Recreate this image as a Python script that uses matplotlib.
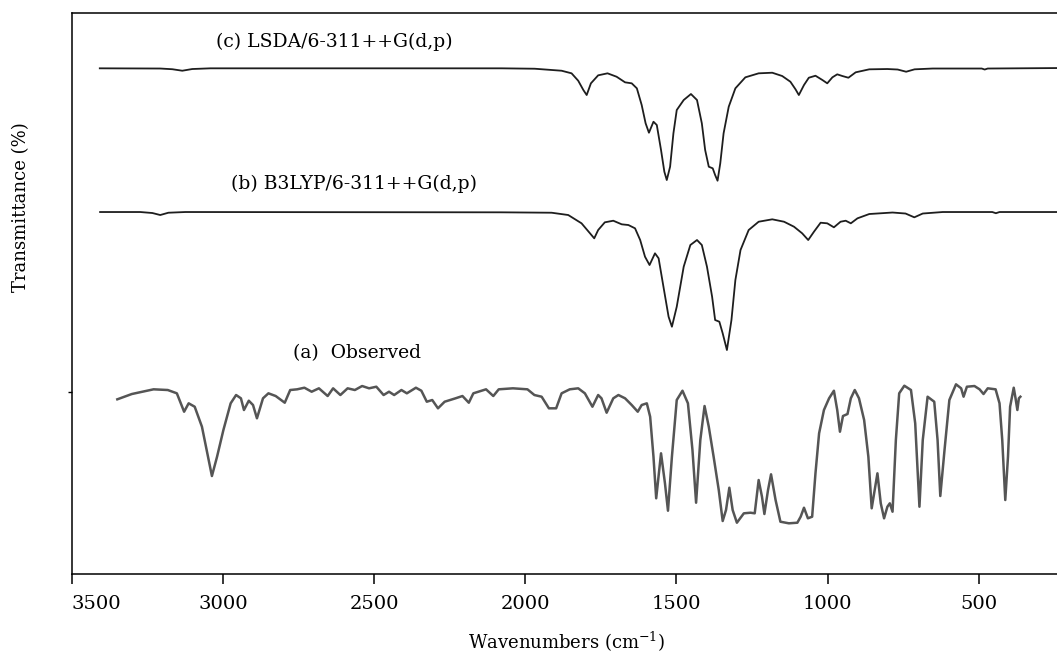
import matplotlib
matplotlib.use("Agg")
import matplotlib.pyplot as plt

plt.rcParams["font.family"] = ["DejaVu Serif"]
plt.rcParams["mathtext.fontset"] = "dejavuserif"

# ── Spectra: (wavenumber cm-1, transmittance, arbitrary offset units) ──
# (c) LSDA/6-311++G(d,p)
lsda = [
    (3408, 505.7), (3208, 505.5), (3168, 504.8), (3135, 503.3), (3102, 505.0), (3042, 505.7),
    (2079, 505.7), (1969, 505.3), (1880, 503.3), (1847, 500.7), (1825, 493.3), (1808, 484.0),
    (1797, 479.0), (1783, 490.7), (1759, 498.7), (1728, 500.7), (1698, 497.3), (1670, 491.7),
    (1648, 490.7), (1631, 485.7), (1615, 469.0), (1602, 450.7), (1591, 441.3), (1576, 452.3),
    (1565, 449.0), (1551, 424.0), (1540, 402.3), (1532, 394.0), (1521, 407.3), (1510, 440.7),
    (1499, 464.0), (1476, 474.0), (1452, 480.0), (1432, 474.0), (1416, 450.7), (1405, 424.0),
    (1393, 407.3), (1380, 405.7), (1372, 399.0), (1364, 393.3), (1355, 410.7), (1344, 440.7),
    (1327, 467.3), (1305, 485.7), (1272, 496.7), (1228, 500.7), (1183, 501.3), (1150, 498.0),
    (1123, 492.3), (1106, 484.7), (1095, 479.0), (1078, 489.0), (1062, 496.3), (1040, 498.3),
    (1017, 494.0), (1001, 490.7), (984, 496.7), (968, 499.7), (951, 498.0), (931, 496.3),
    (907, 501.7), (862, 504.7), (802, 505.0), (768, 504.5), (740, 502.3), (712, 504.7),
    (652, 505.5), (490, 505.5), (480, 504.5), (470, 505.5), (228, 506.0),
]

# (b) B3LYP/6-311++G(d,p)
b3lyp = [
    (3407, 362.0), (3274, 362.0), (3234, 361.0), (3208, 359.0), (3181, 361.3), (3125, 362.0),
    (2079, 361.7), (1913, 361.3), (1858, 359.0), (1814, 350.7), (1786, 340.7), (1772, 335.7),
    (1759, 344.0), (1737, 351.7), (1709, 353.3), (1681, 349.7), (1659, 349.0), (1637, 345.7),
    (1620, 334.0), (1604, 317.3), (1589, 309.0), (1571, 320.7), (1559, 315.7), (1543, 287.3),
    (1526, 257.3), (1515, 247.3), (1499, 267.3), (1476, 307.3), (1454, 329.0), (1432, 334.0),
    (1416, 329.0), (1399, 307.3), (1382, 277.3), (1372, 254.0), (1358, 252.3), (1347, 240.7),
    (1333, 224.0), (1318, 254.0), (1305, 294.0), (1288, 324.0), (1261, 344.0), (1228, 352.3),
    (1183, 354.7), (1144, 352.3), (1111, 347.3), (1084, 340.7), (1064, 334.0), (1045, 342.3),
    (1023, 351.3), (1001, 350.7), (979, 346.7), (957, 352.3), (940, 353.3), (923, 350.7),
    (901, 355.7), (862, 360.0), (785, 361.5), (742, 360.5), (713, 356.7), (685, 360.5),
    (619, 362.0), (455, 362.0), (443, 360.8), (431, 362.0), (228, 362.0),
]

# (a) Observed
observed = [
    (3350, 174.7), (3302, 180.0), (3230, 184.7), (3183, 184.0), (3153, 180.7), (3129, 162.3),
    (3114, 170.7), (3094, 167.3), (3070, 147.3), (3052, 120.7), (3037, 98.0), (3020, 117.3),
    (2999, 144.0), (2975, 170.7), (2957, 179.0), (2941, 175.7), (2931, 164.0), (2915, 173.3),
    (2901, 169.0), (2888, 155.7), (2868, 175.7), (2850, 180.7), (2826, 178.0), (2796, 171.3),
    (2778, 184.0), (2755, 184.7), (2731, 186.3), (2707, 182.3), (2683, 185.7), (2654, 178.0),
    (2636, 185.7), (2612, 179.0), (2588, 185.7), (2564, 184.0), (2540, 188.0), (2517, 185.7),
    (2493, 187.3), (2469, 179.0), (2451, 182.3), (2434, 179.0), (2410, 184.0), (2392, 180.7),
    (2362, 186.3), (2344, 183.3), (2326, 172.3), (2308, 174.0), (2289, 165.7), (2267, 172.3),
    (2231, 175.7), (2208, 178.0), (2187, 171.3), (2172, 180.7), (2130, 184.7), (2106, 178.0),
    (2088, 184.7), (2041, 185.7), (1993, 184.7), (1970, 179.0), (1946, 177.3), (1922, 165.7),
    (1898, 165.7), (1880, 180.7), (1853, 184.7), (1825, 185.7), (1803, 180.7), (1778, 167.3),
    (1759, 179.0), (1748, 175.7), (1731, 161.3), (1709, 175.7), (1692, 179.0), (1670, 175.7),
    (1648, 169.0), (1628, 162.3), (1615, 169.0), (1598, 170.7), (1587, 157.3), (1576, 117.3),
    (1567, 75.7), (1551, 120.7), (1538, 90.7), (1528, 63.3), (1515, 117.3), (1499, 174.0),
    (1480, 183.3), (1462, 170.7), (1447, 124.0), (1435, 71.3), (1421, 134.0), (1407, 168.0),
    (1393, 147.3), (1377, 117.3), (1360, 84.0), (1347, 53.0), (1336, 64.0), (1325, 86.3),
    (1314, 64.0), (1300, 51.3), (1277, 60.7), (1255, 61.3), (1241, 60.7), (1228, 94.0),
    (1217, 77.3), (1209, 60.0), (1197, 84.0), (1187, 99.7), (1172, 74.0), (1156, 52.3),
    (1128, 50.7), (1100, 51.3), (1089, 57.3), (1078, 66.3), (1065, 55.7), (1051, 57.3),
    (1040, 100.7), (1028, 140.7), (1012, 164.0), (995, 175.7), (979, 183.3), (968, 164.0),
    (959, 142.3), (949, 158.0), (934, 160.0), (923, 175.7), (910, 184.0), (896, 175.7),
    (879, 154.0), (865, 117.3), (854, 65.7), (846, 80.7), (835, 100.7), (824, 70.7),
    (813, 55.7), (802, 67.3), (794, 70.7), (785, 62.3), (774, 134.0), (763, 180.7),
    (746, 188.3), (724, 184.0), (710, 150.7), (696, 67.3), (685, 134.0), (669, 177.3),
    (647, 172.3), (636, 134.0), (627, 78.0), (613, 124.0), (597, 174.0), (575, 189.7),
    (558, 185.7), (550, 177.3), (539, 187.3), (514, 188.0), (497, 184.7), (484, 180.0),
    (470, 185.7), (444, 184.7), (431, 170.7), (422, 134.0), (412, 74.0), (403, 117.3),
    (396, 167.3), (384, 186.3), (378, 175.7), (372, 164.0), (367, 175.7), (362, 177.3),
]

labels = ["(c) LSDA/6-311++G(d,p)", "(b) B3LYP/6-311++G(d,p)", "(a)  Observed"]
label_pos = [(3025, 532), (2975, 390), (2770, 221)]
xticks = [3500, 3000, 2500, 2000, 1500, 1000, 500]

fig = plt.figure(figsize=(10.57, 6.68), dpi=100)
ax = fig.add_axes([0.0681, 0.1407, 0.935, 0.8398])

for spec, col, lw in [(lsda, "#1e1e1e", 1.3), (b3lyp, "#1e1e1e", 1.3), (observed, "#555555", 1.8)]:
    wn, tr = zip(*spec)
    ax.plot(wn, tr, color=col, linewidth=lw, solid_joinstyle="round")

for text, (x, y) in zip(labels, label_pos):
    ax.text(x, y, text, ha="left", va="center", fontsize=13.5)

ax.set_xlim(3500, 230)
ax.set_ylim(0, 561)
ax.set_xticks(xticks)
ax.set_xticklabels([str(t) for t in xticks], fontsize=14)
ax.get_xticklabels()[0].set_ha("left")
ax.set_yticks([182])
ax.set_yticklabels([])
ax.tick_params(axis="x", direction="out", length=7, width=1.1, pad=8)
ax.tick_params(axis="y", direction="out", length=3, width=1.0)
ax.spines["right"].set_visible(False)
for s in ["left", "bottom", "top"]:
    ax.spines[s].set_linewidth(1.1)

ax.set_xlabel(r"Wavenumbers (cm$^{-1}$)", fontsize=13, labelpad=12)
fig.text(21 / 1057, 1 - 207 / 668, "Transmittance (%)", rotation=90,
         ha="center", va="center", fontsize=13)

fig.savefig("out.png", dpi=100)
